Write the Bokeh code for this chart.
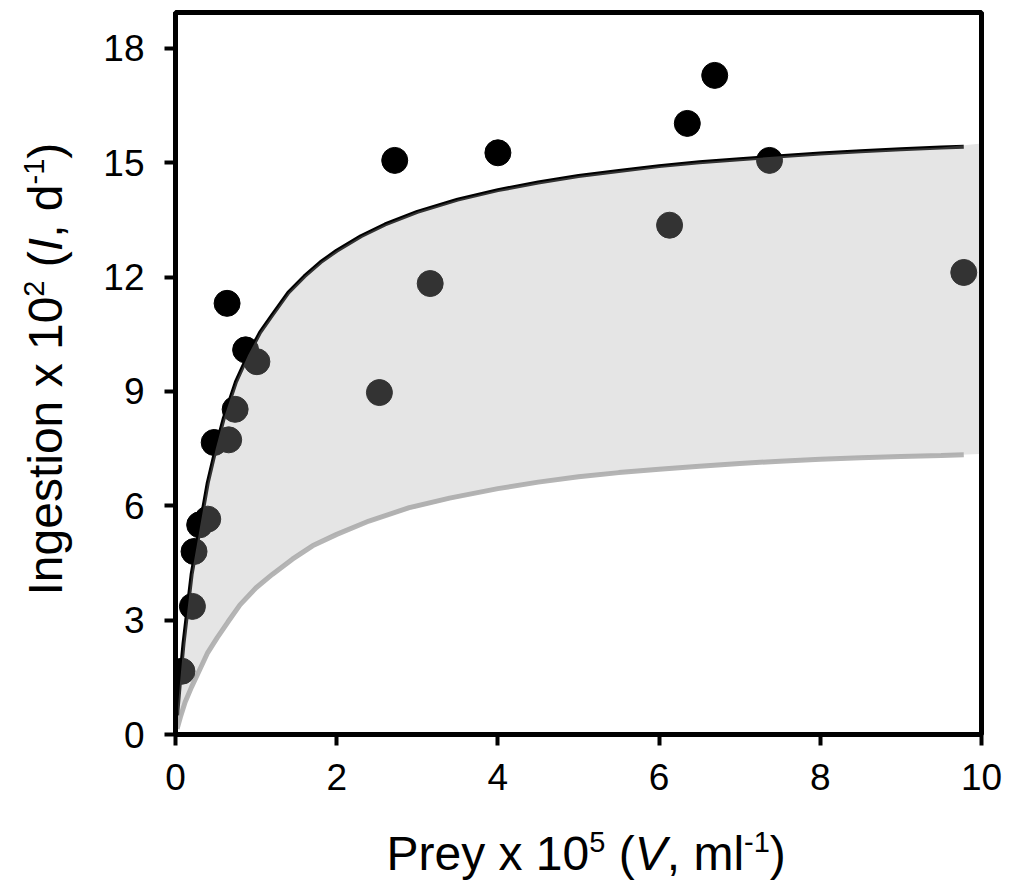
import math
from bokeh.plotting import figure
from bokeh.models import FixedTicker, Range1d
from bokeh.layouts import row, column
from bokeh.core.properties import value
from bokeh.embed import file_html
from bokeh.resources import INLINE

# ---- data ----
obs_x = [0.08, 0.21, 0.23, 0.30, 0.40, 0.48, 0.66, 0.74, 0.64, 0.87, 1.01,
         2.53, 2.72, 3.16, 4.00, 6.13, 6.35, 6.69, 7.37, 9.78]
obs_y = [1.66, 3.36, 4.80, 5.50, 5.65, 7.66, 7.73, 8.53, 11.31, 10.09, 9.78,
         8.97, 15.06, 11.83, 15.26, 13.36, 16.03, 17.29, 15.06, 12.12]

upper_x = [0.02, 0.06, 0.10, 0.15, 0.20, 0.30, 0.40, 0.50, 0.60, 0.75, 0.90,
           1.05, 1.20, 1.40, 1.60, 1.80, 2.00, 2.30, 2.60, 3.00, 3.50, 4.00,
           4.50, 5.00, 5.50, 6.00, 6.50, 7.00, 7.50, 8.00, 8.50, 9.00, 9.50, 9.78]
upper_y = [0.50, 1.50, 2.40, 3.30, 4.20, 5.40, 6.60, 7.50, 8.30, 9.25, 9.95,
           10.55, 11.00, 11.59, 12.02, 12.39, 12.69, 13.07, 13.38, 13.71, 14.03, 14.28,
           14.48, 14.65, 14.78, 14.91, 15.01, 15.09, 15.17, 15.24, 15.30, 15.35, 15.40, 15.42]

lower_x = [0.02, 0.06, 0.12, 0.20, 0.30, 0.40, 0.52, 0.65, 0.80, 1.00, 1.20,
           1.45, 1.70, 2.00, 2.40, 2.90, 3.40, 4.00, 4.50, 5.00, 5.50, 6.00,
           6.50, 7.00, 7.50, 8.00, 8.50, 9.00, 9.50, 9.78]
lower_y = [0.15, 0.45, 0.85, 1.25, 1.70, 2.15, 2.55, 2.95, 3.40, 3.85, 4.20,
           4.60, 4.95, 5.25, 5.60, 5.95, 6.20, 6.45, 6.62, 6.76, 6.87, 6.96,
           7.04, 7.11, 7.17, 7.22, 7.26, 7.29, 7.32, 7.34]

band_x = [0.02, 0.10, 0.20, 0.30, 0.40, 0.50, 0.60, 0.75, 0.90, 1.05, 1.20,
          1.40, 1.60, 1.80, 2.00, 2.30, 2.60, 3.00, 3.50, 4.00, 4.50, 5.00,
          5.50, 6.00, 6.50, 7.00, 7.50, 8.00, 8.50, 9.00, 9.50, 9.97]
band_lo = [0.15, 0.65, 1.25, 1.70, 2.15, 2.50, 2.85, 3.30, 3.65, 3.95, 4.20,
           4.55, 4.85, 5.10, 5.25, 5.50, 5.70, 5.95, 6.20, 6.45, 6.62, 6.76,
           6.87, 6.96, 7.04, 7.11, 7.17, 7.22, 7.26, 7.29, 7.32, 7.36]
band_hi = [0.50, 2.40, 4.20, 5.40, 6.60, 7.50, 8.30, 9.25, 9.95, 10.55, 11.00,
           11.59, 12.02, 12.39, 12.69, 13.07, 13.38, 13.71, 14.03, 14.28, 14.48, 14.65,
           14.78, 14.91, 15.01, 15.09, 15.17, 15.24, 15.30, 15.35, 15.40, 15.50]

x_ticks = [0, 2, 4, 6, 8, 10]
y_ticks = [0, 3, 6, 9, 12, 15, 18]

FONT = "Liberation Sans"

# ---------------- main plot ----------------
MAIN_W, MAIN_H = 902, 810
B_TOP, B_BOTTOM = 12, 76
p = figure(width=MAIN_W, height=MAIN_H, output_backend="svg", toolbar_location=None,
           x_range=Range1d(0, 10), y_range=Range1d(0, 18.94))
p.min_border_left = 75
p.min_border_right = 21
p.min_border_top = B_TOP
p.min_border_bottom = B_BOTTOM
p.background_fill_color = "white"
p.border_fill_color = "white"
p.outline_line_color = "black"
p.outline_line_width = 5
p.xgrid.visible = False
p.ygrid.visible = False

for ax, ticks in ((p.xaxis[0], x_ticks), (p.yaxis[0], y_ticks)):
    ax.ticker = FixedTicker(ticks=ticks)
    ax.axis_line_width = 5
    ax.axis_line_color = "black"
    ax.major_tick_line_width = 4
    ax.major_tick_line_color = "black"
    ax.major_tick_in = 0
    ax.major_tick_out = 11
    ax.minor_tick_line_color = None
    ax.major_label_text_font = FONT
    ax.major_label_text_font_size = "37px"
    ax.major_label_text_color = "black"
p.xaxis.major_label_standoff = 18
p.yaxis.major_label_standoff = 20

p.line(lower_x, lower_y, line_color="#b5b5b5", line_width=5)
p.line(upper_x, upper_y, line_color="black", line_width=4)
p.scatter(obs_x, obs_y, size=26, fill_color="black", line_color="black")
# translucent band drawn over the points and curves
p.varea(x=band_x, y1=band_lo, y2=band_hi, fill_color="#a9a9a9", fill_alpha=0.3)

# ---------------- composite axis labels ----------------
W = {' ': 278, '(': 333, ')': 333, ',': 278, '-': 333, 'P': 667, 'V': 667,
     'I': 278, 'e': 556, 'r': 333, 'y': 500, 'x': 500, 'm': 833, 'l': 222,
     'n': 556, 'g': 556, 's': 500, 't': 278, 'i': 222, 'o': 556, 'd': 556}
for c in "0123456789":
    W[c] = 556

def width(txt, size):
    return sum(W.get(c, 556) for c in txt) * size / 1000.0

F = 48
S = round(F * 0.6)
RAISE = F * 0.38
MID = 0.3465  # centre of the text box above the baseline, in em

def text_fig(w, h, xr, yr, bt=0, bb=0):
    f = figure(width=w, height=h, output_backend="svg", toolbar_location=None,
               x_range=Range1d(*xr), y_range=Range1d(*yr),
               x_axis_type=None, y_axis_type=None, title=None)
    f.min_border_left = f.min_border_right = 0
    f.min_border_top = bt
    f.min_border_bottom = bb
    f.outline_line_color = None
    f.xgrid.visible = False
    f.ygrid.visible = False
    f.background_fill_color = "white"
    f.border_fill_color = "white"
    return f

def draw_pieces(f, items, x0, y0, vertical):
    """x0, y0: start of the baseline (data units = pixels, y upward)."""
    xs, ys, ts, sizes, styles = [], [], [], [], []
    pos = 0.0
    for txt, size, style, up in items:
        if txt is None:          # plain gap (a space)
            pos += width(" ", size)
            continue
        w = width(txt, size)
        c = pos + w / 2.0
        off = up + MID * size
        if vertical:
            xs.append(x0 - off); ys.append(y0 + c)
        else:
            xs.append(x0 + c); ys.append(y0 + off)
        ts.append(txt); sizes.append(f"{size}px"); styles.append(style)
        pos += w
    f.text(x=xs, y=ys, text=ts, text_font=value(FONT), text_font_size=sizes,
           text_font_style=styles, text_color="black", text_align="center",
           text_baseline="middle", angle=(math.pi / 2 if vertical else 0))

xlab = [("Prey x 10", F, "normal", 0), ("5", S, "normal", RAISE),
        (None, F, "", 0), ("(", F, "normal", 0), ("V", F, "italic", 0),
        (",", F, "normal", 0), (None, F, "", 0), ("ml", F, "normal", 0),
        ("-1", S, "normal", RAISE), (")", F, "normal", 0)]
ylab = [("Ingestion x 10", F, "normal", 0), ("2", S, "normal", RAISE),
        (None, F, "", 0), ("(", F, "normal", 0), ("I", F, "italic", 0),
        (",", F, "normal", 0), (None, F, "", 0), ("d", F, "normal", 0),
        ("-1", S, "normal", RAISE), (")", F, "normal", 0)]

# y label panel: its frame is aligned with the main frame, so map 1 unit = 1 px
YL_W = 100
yfig = text_fig(YL_W, MAIN_H, (0, YL_W), (B_BOTTOM, MAIN_H - B_TOP), B_TOP, B_BOTTOM)
draw_pieces(yfig, ylab, 62, MAIN_H - 595, True)

XL_H = 76
TOTAL_H = MAIN_H + XL_H
xfig = text_fig(YL_W + MAIN_W, XL_H, (0, YL_W + MAIN_W), (0, XL_H))
draw_pieces(xfig, xlab, 386, TOTAL_H - 870, False)

layout = column(row(yfig, p, spacing=0), xfig, spacing=0)
open("out.html", "w").write(file_html(layout, INLINE))
